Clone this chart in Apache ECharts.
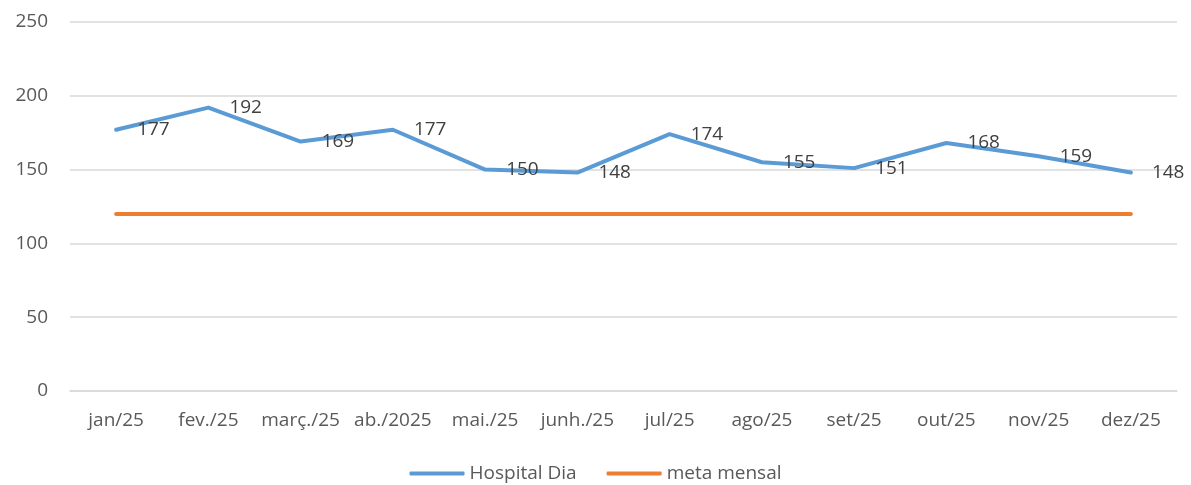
<!DOCTYPE html>
<html>
<head>
<meta charset="utf-8">
<script src="https://cdn.jsdelivr.net/npm/echarts@6/dist/echarts.min.js"></script>
<style>
  html, body { margin: 0; padding: 0; background: #fff; }
  #chart { width: 1191px; height: 485px; }
</style>
</head>
<body>
<div id="chart"></div>
<script>
// dados
var meses = ['jan/25', 'fev./25', 'març./25', 'ab./2025', 'mai./25', 'junh./25', 'jul/25', 'ago/25', 'set/25', 'out/25', 'nov/25', 'dez/25'];
var hospitalDia = [177, 192, 169, 177, 150, 148, 174, 155, 151, 168, 159, 148];
var metaMensal = [120, 120, 120, 120, 120, 120, 120, 120, 120, 120, 120, 120];

var fonte = '"Open Sans", "Noto Sans", sans-serif';
var cinza = '#595959';

var myChart = echarts.init(document.getElementById('chart'));
myChart.setOption({
  animation: false,
  textStyle: { fontFamily: fonte },
  grid: { left: 70, right: 14, top: 22, bottom: 94 },
  legend: {
    top: 459,
    left: 'center',
    itemWidth: 55,
    itemHeight: 4,
    itemGap: 30,
    icon: 'roundRect',
    textStyle: { color: cinza, fontSize: 19, fontFamily: fonte },
    data: ['Hospital Dia', 'meta mensal']
  },
  xAxis: {
    type: 'category',
    data: meses,
    boundaryGap: true,
    axisLine: { lineStyle: { color: '#d9d9d9', width: 1.5 } },
    axisTick: { show: false },
    axisLabel: { color: cinza, fontSize: 19, margin: 20, interval: 0, fontFamily: fonte }
  },
  yAxis: {
    type: 'value',
    min: 0,
    max: 250,
    interval: 50,
    axisLine: { show: false },
    axisTick: { show: false },
    axisLabel: { color: cinza, fontSize: 19, margin: 22, fontFamily: fonte },
    splitLine: { lineStyle: { color: '#d9d9d9', width: 1.5 } }
  },
  series: [
    {
      name: 'Hospital Dia',
      type: 'line',
      data: hospitalDia,
      symbol: 'circle',
      symbolSize: 2,
      showSymbol: true,
      lineStyle: { color: '#5b9bd5', width: 4, cap: 'round', join: 'round' },
      itemStyle: { color: '#5b9bd5' },
      label: {
        show: true,
        position: 'right',
        distance: 20,
        color: '#404040',
        fontSize: 19,
        fontFamily: fonte
      }
    },
    {
      name: 'meta mensal',
      type: 'line',
      data: metaMensal,
      symbol: 'none',
      lineStyle: { color: '#ed7d31', width: 4, cap: 'round' },
      itemStyle: { color: '#ed7d31' }
    }
  ]
});
</script>
</body>
</html>
